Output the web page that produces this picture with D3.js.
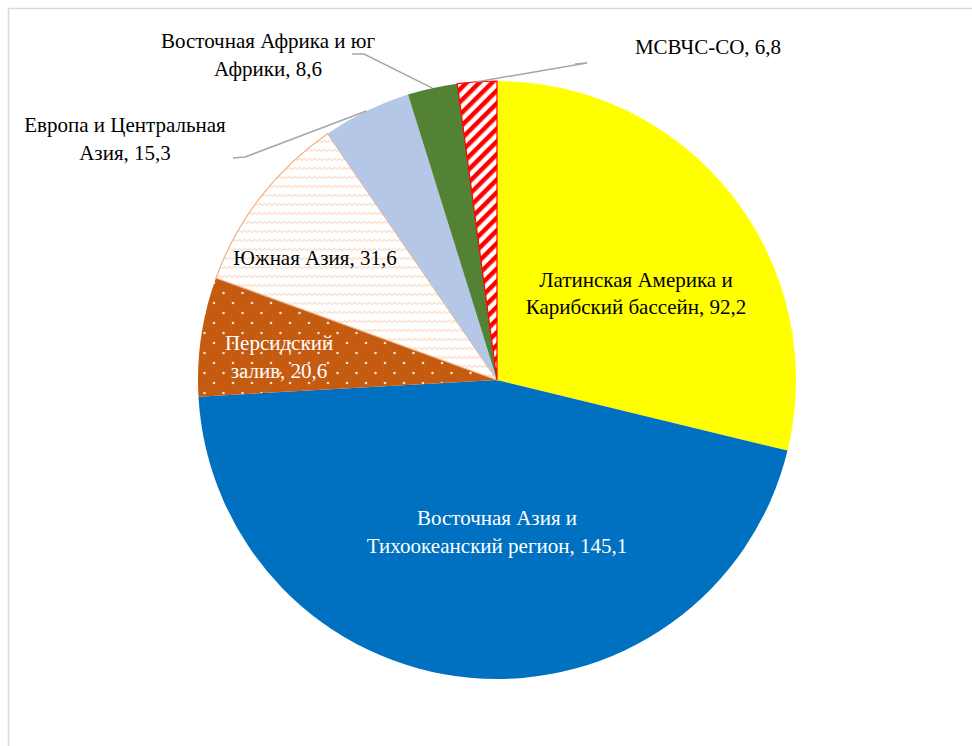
<!DOCTYPE html>
<html><head><meta charset="utf-8">
<script src="https://cdn.jsdelivr.net/npm/d3@7/dist/d3.min.js"></script>
<style>html,body{margin:0;padding:0;background:#fff}svg{display:block}</style>
</head><body><svg id="c" width="972" height="746"></svg>
<script>
const categories = ["Латинская Америка и Карибский бассейн","Восточная Азия и Тихоокеанский регион","Персидский залив","Южная Азия","Европа и Центральная Азия","Восточная Африка и юг Африки","МСВЧС-СО"];
const values = [92.2,145.1,20.6,31.6,15.3,8.6,6.8];
const labelLines = [["Латинская Америка и","Карибский бассейн, 92,2"],["Восточная Азия и","Тихоокеанский регион, 145,1"],["Персидский","залив, 20,6"],["Южная Азия, 31,6"],["Европа и Центральная","Азия, 15,3"],["Восточная Африка и юг","Африки, 8,6"],["МСВЧС-СО, 6,8"]];
const fills = ["#FFFF00","#0070C0","url(#dots)","url(#zig)","#B4C7E7","#548235","url(#stripes)"];
const strokes = ["none","none","none","#F4B183","none","none","#FF0000"];
const textColors = ["#000","#fff","#fff","#000","#000","#000","#000"];

const svg = d3.select("#c");
const W=972,H=746;
svg.append("rect").attr("x",8.5).attr("y",8.5).attr("width",W).attr("height",H).attr("fill","#fff").attr("stroke","#D9D9D9").attr("stroke-width",1.5);

const defs = svg.append("defs");
const pd = defs.append("pattern").attr("id","dots").attr("patternUnits","userSpaceOnUse").attr("width",19).attr("height",20);
pd.append("rect").attr("width",19).attr("height",20).attr("fill","#C55A11");
[[2,3],[11.5,13]].forEach(([x,y])=>pd.append("circle").attr("cx",x).attr("cy",y).attr("r",1.3).attr("fill","#F6E0D2"));
const pz = defs.append("pattern").attr("id","zig").attr("patternUnits","userSpaceOnUse").attr("width",10).attr("height",9);
pz.append("rect").attr("width",10).attr("height",9).attr("fill","#fff");
pz.append("path").attr("d","M0,5.5 L2.5,3.5 L5,5.5 L7.5,3.5 L10,5.5").attr("fill","none").attr("stroke","#FCE2D0").attr("stroke-width",1.4);
const ps = defs.append("pattern").attr("id","stripes").attr("patternUnits","userSpaceOnUse").attr("width",9).attr("height",9).attr("patternTransform","rotate(45)");
ps.append("rect").attr("width",9).attr("height",9).attr("fill","#fff");
ps.append("rect").attr("width",4.5).attr("height",9).attr("fill","#FF0000");

const cx=497, cy=380, R=299;
const g = svg.append("g").attr("transform",`translate(${cx},${cy})`);
const pie = d3.pie().sort(null).value(d=>d);
const arcs = pie(values);
const arc = d3.arc().innerRadius(0).outerRadius(R);
g.selectAll("path.s").data(arcs).join("path").attr("class","s")
  .attr("d",arc).attr("fill",(d,i)=>fills[i])
  .attr("stroke",(d,i)=>strokes[i]).attr("stroke-width",(d,i)=>strokes[i]==="none"?0:1.2);

// label positions relative to centre (layout)
const labelPos = [[139,-86.5],[0,152],[-218,-23],[-182,-122],[-372,-241],[-229,-325],[211,-333]];
const lineH = 27.5;
const fs = 21;
arcs.forEach((a,i)=>{
  const lines = labelLines[i];
  const [lx,ly] = labelPos[i];
  const t = g.append("text").attr("font-family","Liberation Serif, 'Times New Roman', serif")
    .attr("font-size",fs).attr("fill",textColors[i]).attr("text-anchor","middle");
  lines.forEach((s,k)=>{
    t.append("tspan").attr("x",lx).attr("y",ly+(k-(lines.length-1)/2)*lineH+7).text(s);
  });
});

const leaders = {4:[[-264,-222],[-252,-223]],5:[[-145,-326],[-133,-326]],6:[[78,-316],[90,-317]]};
Object.keys(leaders).forEach(k=>{
  const a = arcs[k];
  const mid=(a.startAngle+a.endAngle)/2;
  const p=[Math.sin(mid)*R,-Math.cos(mid)*R];
  const pts=[leaders[k][0],leaders[k][1],p];
  g.append("path").attr("d",d3.line()(pts)).attr("fill","none").attr("stroke","#A6A6A6").attr("stroke-width",1.5);
});
</script></body></html>
